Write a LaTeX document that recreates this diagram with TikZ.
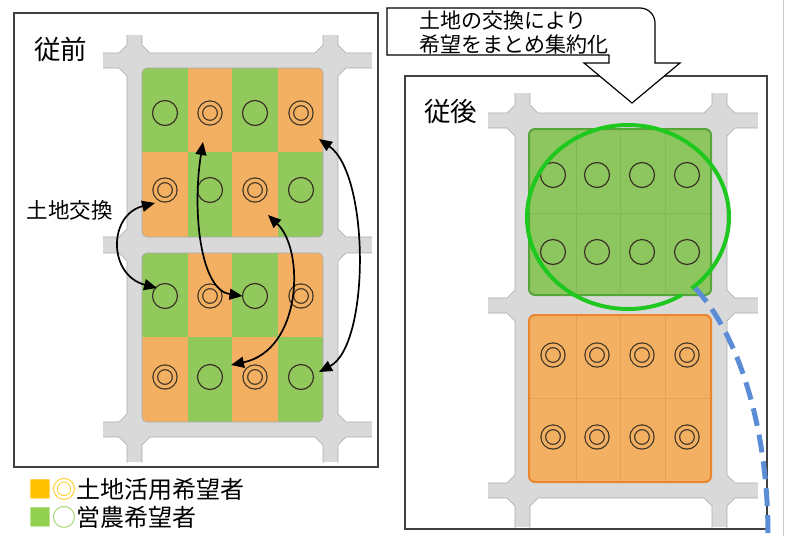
\documentclass[tikz,border=0pt]{standalone}
\usepackage{fontspec}
\newfontfamily\jp{Noto Sans CJK JP}
\usetikzlibrary{calc,arrows.meta}
\definecolor{roadfill}{HTML}{D9D9D9}
\definecolor{roadedge}{HTML}{A8A8A8}
\definecolor{cellgreen}{HTML}{92C95C}
\definecolor{cellorange}{HTML}{F4B062}
\definecolor{ringdark}{HTML}{3B3325}
\definecolor{framecol}{HTML}{404040}
\definecolor{blkgreen}{HTML}{8DC65E}
\definecolor{blkgreenedge}{HTML}{56A53B}
\definecolor{blkgreenline}{HTML}{7FBA55}
\definecolor{blkorange}{HTML}{F4B062}
\definecolor{blkorangeedge}{HTML}{EA8530}
\definecolor{blkorangeline}{HTML}{E9A055}
\definecolor{bigring}{HTML}{1EC81E}
\definecolor{bluedash}{HTML}{5B8DD6}
\definecolor{legorange}{HTML}{FFC000}
\definecolor{leggreen}{HTML}{92D050}
\newcommand\chamfbox[6]{\path[#6] ({#1+#5},#2) -- ({#3-#5},#2) -- (#3,{#2+#5}) -- (#3,{#4-#5}) -- ({#3-#5},#4) -- ({#1+#5},#4) -- (#1,{#4-#5}) -- (#1,{#2+#5}) -- cycle;}
\begin{document}
\begin{tikzpicture}[x=1pt,y=-1pt,
  sc/.style={circle, draw=ringdark, line width=1.2pt, minimum size=25pt, inner sep=0pt, outer sep=0pt},
  dc/.style={circle, draw=ringdark, line width=1.2pt, double=cellorange, double distance=3.4pt, minimum size=19.5pt, inner sep=0pt, outer sep=0pt},
  arr/.style={line width=1.7pt, {Triangle[length=13pt,width=11pt]}-{Triangle[length=13pt,width=11pt]}},
  framebox/.style={draw=framecol, line width=1.2pt},
  blockedge/.style={fill=white, draw=roadedge, line width=0.6pt},
  lbl/.style={anchor=base west, inner sep=0pt, outer sep=0pt}]
\useasboundingbox (0,0) rectangle (795,536);
\fill[white] (0,0) rectangle (795,536);
% light gray line at right
\draw[black!22, line width=1pt] (783,0) -- (783,536);

% ===== left panel =====
\draw[framebox] (14,13) rectangle (378,467);
\begin{scope}
\clip (103,35) rectangle (372,462);
\fill[roadfill] (103,35) rectangle (372,462);
\foreach \xa/\xb in {40/127, 338/440} {
  \foreach \ya/\yb in {-20/53, 68/237, 253/422, 437/520} {
    \chamfbox{\xa}{\ya}{\xb}{\yb}{8}{blockedge}
  }
}
\foreach \ya/\yb in {-20/53, 437/520} {
  \chamfbox{142}{\ya}{323}{\yb}{8}{blockedge}
}
\end{scope}
% top field block
\begin{scope}
\clip[rounded corners=5] (142,68) rectangle (323,237);
\foreach \xa/\xb/\c in {142/188/cellgreen, 188/232/cellorange, 232/278/cellgreen, 278/323/cellorange}
  \fill[\c] (\xa,68) rectangle (\xb,152);
\foreach \xa/\xb/\c in {142/188/cellorange, 188/232/cellgreen, 232/278/cellorange, 278/323/cellgreen}
  \fill[\c] (\xa,152) rectangle (\xb,237);
\end{scope}
\draw[roadedge, line width=0.6pt, rounded corners=5] (142,68) rectangle (323,237);
% bottom field block
\begin{scope}
\clip[rounded corners=5] (142,253) rectangle (323,422);
\foreach \xa/\xb/\c in {142/188/cellgreen, 188/232/cellorange, 232/278/cellgreen, 278/323/cellorange}
  \fill[\c] (\xa,253) rectangle (\xb,337);
\foreach \xa/\xb/\c in {142/188/cellorange, 188/232/cellgreen, 232/278/cellorange, 278/323/cellgreen}
  \fill[\c] (\xa,337) rectangle (\xb,422);
\end{scope}
\draw[roadedge, line width=0.6pt, rounded corners=5] (142,253) rectangle (323,422);
% circles
\node[sc] (t11) at (165,113) {};
\node[dc] (t12) at (210,113) {};
\node[sc] (t13) at (255,113) {};
\node[dc] (t14) at (301,113) {};
\node[dc] (t21) at (165,190) {};
\node[sc] (t22) at (210,190) {};
\node[dc] (t23) at (255,190) {};
\node[sc] (t24) at (301,190) {};
\node[sc] (b11) at (165,296) {};
\node[dc] (b12) at (210,296) {};
\node[sc] (b13) at (255,296) {};
\node[dc] (b14) at (301,296) {};
\node[dc] (b21) at (165,377) {};
\node[sc] (b22) at (210,377) {};
\node[dc] (b23) at (255,377) {};
\node[sc] (b24) at (301,377) {};
% exchange arrows
\draw[arr] ($(t21)+(-10,13)$) .. controls (108,215) and (108,275) .. ($(b11)+(-8,-8)$);
\draw[arr] ($(t12)+(-7,29)$) .. controls (192,210) and (200,290) .. (b13.west);
\draw[arr] ($(t23)+(13,25)$) .. controls (305,250) and (302,350) .. ($(b22)+(21,-12)$);
\draw[arr] ($(t14)+(18,26)$) .. controls (370,175) and (370,345) .. ($(b24)+(18,-5)$);
% labels
\node[lbl, font=\jp\fontsize{26.5}{28}\selectfont] (before) at (34,59) {従前};
\node[lbl, font=\jp\fontsize{21.5}{22}\selectfont] (exch) at (27,218) {土地交換};

% legend
\node[lbl, font=\jp\fontsize{24}{25}\selectfont] (leg1) at (28,498) {{\color{legorange}■◎}土地活用希望者};
\node[lbl, font=\jp\fontsize{24}{25}\selectfont] (leg2) at (28,526) {{\color{leggreen}■○}営農希望者};

% ===== right panel =====
\draw[framebox] (405,76) rectangle (767,529);
\begin{scope}
\clip (488,93) rectangle (758,527);
\fill[roadfill] (488,93) rectangle (758,527);
\foreach \xa/\xb in {430/515, 727/820} {
  \foreach \ya/\yb in {40/113, 128/298, 313/483, 498/580} {
    \chamfbox{\xa}{\ya}{\xb}{\yb}{8}{blockedge}
  }
}
\foreach \ya/\yb in {40/113, 498/580} {
  \chamfbox{530}{\ya}{712}{\yb}{8}{blockedge}
}
\end{scope}
% green block
\fill[blkgreen, rounded corners=6] (529,129) rectangle (711,295);
\foreach \xv in {576,620,665} \draw[blkgreenline, line width=1pt] (\xv,130) -- (\xv,294);
\draw[blkgreenline, line width=1pt] (530,213) -- (710,213);
\draw[blkgreenedge, line width=2pt, rounded corners=6] (529,129) rectangle (711,295);
% orange block
\fill[blkorange, rounded corners=6] (529,315) rectangle (711,482);
\foreach \xv in {576,620,665} \draw[blkorangeline, line width=1pt] (\xv,316) -- (\xv,481);
\draw[blkorangeline, line width=1pt] (530,398) -- (710,398);
\draw[blkorangeedge, line width=2pt, rounded corners=6] (529,315) rectangle (711,482);
% circles
\foreach \xv [count=\i] in {553,597,642,687} {
  \node[sc] (g1\i) at (\xv,175) {};
  \node[sc] (g2\i) at (\xv,252) {};
  \node[dc] (o1\i) at (\xv,355) {};
  \node[dc] (o2\i) at (\xv,437) {};
}
% big green ring
\draw[bigring, line width=4pt] (628,217) ++(58:101 and 92) arc[start angle=58, end angle=411, x radius=101, y radius=92];
% blue dashed curve
\coordinate (dashstart) at (695,288);
\coordinate (dashend) at (768,536);
\draw[bluedash, line width=5pt, dash pattern=on 18pt off 9pt] (dashstart) .. controls (735,330) and (768,420) .. (dashend);
\node[lbl, font=\jp\fontsize{26.5}{28}\selectfont] (after) at (424,121) {従後};

% callout arrow
\draw[line width=1.2pt, fill=white] (387,55) -- (387,8) -- (640,8) arc[start angle=-90, end angle=0, radius=15] -- (655,63) -- (680,63) -- (632,103) -- (584,63) -- (609,63) -- (609,55) -- cycle;
\node[lbl, font=\jp\fontsize{21}{23}\selectfont] (call1) at (419,28) {土地の交換により};
\node[lbl, font=\jp\fontsize{21}{23}\selectfont] (call2) at (419,52) {希望をまとめ集約化};
\end{tikzpicture}
\end{document}
